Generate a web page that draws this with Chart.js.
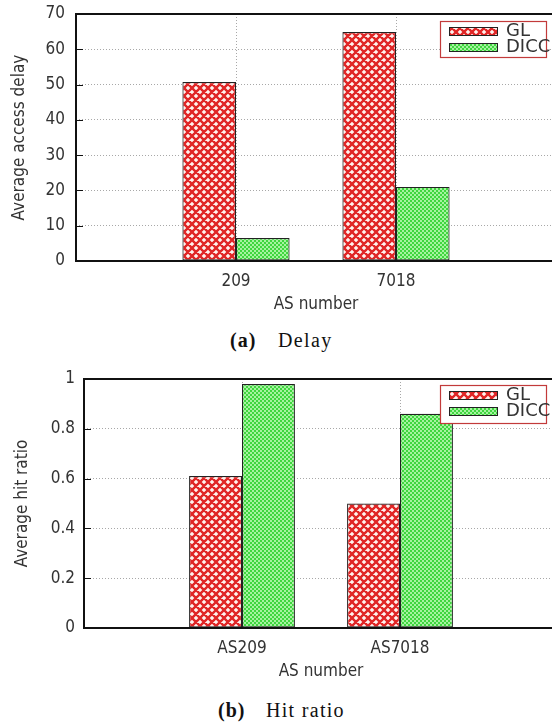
<!DOCTYPE html>
<html style="overflow:hidden">
<head>
<meta charset="utf-8">
<script src="https://cdn.jsdelivr.net/npm/chart.js@4.4.1/dist/chart.umd.min.js"></script>
<style>
  body { margin:0; background:#fff; }
  #lienzo { width:552px; height:722px; overflow:hidden; position:relative; background:#fff; }
  .panel { position:absolute; left:0; }
  .pie { position:absolute; font-family:'Liberation Serif','Times New Roman',serif; font-size:20px; line-height:20px; color:#111; white-space:nowrap; }
</style>
</head>
<body>
<div id="lienzo">
<div class="panel" style="top:0"><canvas id="graficoRetardo" width="569" height="321"></canvas></div>
<span class="pie" style="top:330px;left:230px;font-weight:bold;letter-spacing:1px">(a)</span>
<span class="pie" style="top:330px;left:278px;letter-spacing:1.4px">Delay</span>
<div class="panel" style="top:362px"><canvas id="graficoAciertos" width="569" height="326"></canvas></div>
<span class="pie" style="top:700px;left:218px;font-weight:bold;letter-spacing:1px">(b)</span>
<span class="pie" style="top:700px;left:266px;letter-spacing:1.3px">Hit ratio</span>
</div>
<script>
// datos
const nombresSeries = ['GL', 'DICC'];
const categoriasRetardo = ['', '209', '7018', ''];
const retardoGL = [null, 50.7, 64.9, null];
const retardoDICC = [null, 6.5, 21.0, null];
const categoriasAciertos = ['', 'AS209', 'AS7018', ''];
const aciertosGL = [null, 0.61, 0.50, null];
const aciertosDICC = [null, 0.98, 0.86, null];

const fuente = "'DejaVu Sans Condensed', 'Liberation Sans Narrow', 'DejaVu Sans', sans-serif";

// tramas de relleno (rojo cruzado y verde a cuadros)
function tramaRoja() {
  let c = document.createElement('canvas');
  c.width = 8; c.height = 8;
  let ctx = c.getContext('2d');
  ctx.fillStyle = '#fff2ee';
  ctx.fillRect(0, 0, 8, 8);
  ctx.strokeStyle = '#e02626';
  ctx.lineWidth = 2.4;
  ctx.beginPath();
  for (let k = -8; k <= 16; k += 8) {
    ctx.moveTo(k, 0); ctx.lineTo(k + 8, 8);
    ctx.moveTo(k + 8, 0); ctx.lineTo(k, 8);
  }
  ctx.stroke();
  return document.createElement('canvas').getContext('2d').createPattern(c, 'repeat');
}
function tramaVerde() {
  let c = document.createElement('canvas');
  c.width = 4; c.height = 4;
  let ctx = c.getContext('2d');
  ctx.fillStyle = '#3fd63f';
  ctx.fillRect(0, 0, 4, 4);
  ctx.fillStyle = '#a6f3a0';
  ctx.fillRect(0, 0, 2, 2);
  ctx.fillRect(2, 2, 2, 2);
  return document.createElement('canvas').getContext('2d').createPattern(c, 'repeat');
}

// marco (el lado derecho queda fuera del recorte), marcas hacia dentro y leyenda con borde rojo
const marcoYLeyenda = {
  id: 'marcoYLeyenda',
  afterDatasetsDraw(chart, args, opts) {
    const {ctx, chartArea: a} = chart;
    const ejeY = chart.scales.y;
    ctx.save();
    ctx.strokeStyle = '#111';
    ctx.lineWidth = 1;
    ejeY.ticks.forEach(t => {
      let py = Math.round(ejeY.getPixelForValue(t.value)) + 0.5;
      ctx.beginPath();
      ctx.moveTo(a.left, py); ctx.lineTo(a.left + 7, py);
      ctx.stroke();
    });
    ctx.lineWidth = 2;
    ctx.beginPath();
    ctx.moveTo(a.right + 10, a.top);
    ctx.lineTo(a.left, a.top);
    ctx.lineTo(a.left, a.bottom);
    ctx.lineTo(a.right + 10, a.bottom);
    ctx.stroke();

    // leyenda
    const bx = a.right - opts.derecha - 106, by = a.top + opts.arriba;
    ctx.fillStyle = '#fff';
    ctx.fillRect(bx, by, 106, opts.alto);
    ctx.strokeStyle = '#c23a3a';
    ctx.lineWidth = 1.2;
    ctx.strokeRect(bx + 0.5, by + 0.5, 106, opts.alto);
    ctx.font = "18px 'DejaVu Sans', sans-serif";
    ctx.textBaseline = 'middle';
    chart.data.datasets.forEach((ds, i) => {
      let cy = by + 10 + i * 16;
      ctx.fillStyle = ds.backgroundColor;
      ctx.fillRect(bx + 9, cy - 4, 48, 8);
      ctx.strokeStyle = '#222';
      ctx.lineWidth = 1;
      ctx.strokeRect(bx + 9.5, cy - 3.5, 48, 8);
      ctx.fillStyle = '#333';
      ctx.fillText(ds.label, bx + 66, cy);
    });
    ctx.restore();
  }
};

function crearGrafico(idCanvas, categorias, serieGL, serieDICC, maximo, paso, tituloY, anchoY, margenDerecho, margenArriba, tituloPad, padTicksY, leyendaCfg) {
  return new Chart(document.getElementById(idCanvas), {
    type: 'bar',
    data: {
      labels: categorias,
      datasets: [
        { label: nombresSeries[0], data: serieGL, backgroundColor: tramaRoja(), borderColor: '#222', borderWidth: 1.2, borderSkipped: false },
        { label: nombresSeries[1], data: serieDICC, backgroundColor: tramaVerde(), borderColor: '#222', borderWidth: 1.2, borderSkipped: false }
      ]
    },
    options: {
      responsive: false,
      animation: false,
      layout: { padding: { left: 0, right: margenDerecho, top: margenArriba, bottom: 0 } },
      datasets: { bar: { categoryPercentage: 0.67, barPercentage: 1 } },
      plugins: {
        legend: { display: false },
        tooltip: { enabled: false },
        marcoYLeyenda: leyendaCfg
      },
      scales: {
        x: {
          offset: false,
          grid: {
            offset: false,
            drawTicks: false,
            color: c => (c.index === 1 || c.index === 2) ? '#a8a8a8' : 'rgba(0,0,0,0)',
            lineWidth: 1
          },
          border: { display: false, dash: [1, 2] },
          ticks: { padding: 10, color: '#333', font: { family: fuente, size: 17 }, autoSkip: false, maxRotation: 0 },
          title: { display: true, text: 'AS number', color: '#333', font: { family: fuente, size: 17 }, padding: { top: 0, bottom: 6 } },
          afterFit: s => { s.height = 60; s.paddingLeft = 0; s.paddingRight = 0; }
        },
        y: {
          min: 0,
          max: maximo,
          border: { display: false, dash: [1, 2] },
          grid: {
            drawTicks: false,
            color: c => (c.index === 0 || c.tick.value === maximo) ? 'rgba(0,0,0,0)' : '#a8a8a8',
            lineWidth: 1
          },
          ticks: {
            stepSize: paso, padding: padTicksY, color: '#333', font: { family: fuente, size: 17 },
            callback: v => String(+v.toFixed(1))
          },
          title: { display: true, text: tituloY, color: '#333', font: { family: fuente, size: 17 }, padding: { top: tituloPad, bottom: 0 } },
          afterFit: s => { s.width = anchoY; s.paddingTop = 0; s.paddingBottom = 0; }
        }
      }
    },
    plugins: [marcoYLeyenda]
  });
}

let graficoRetardo = crearGrafico('graficoRetardo', categoriasRetardo, retardoGL, retardoDICC, 70, 10,
  'Average access delay', 76, 13, 14, 9, 11, { derecha: 10, arriba: 7, alto: 36 });
let graficoAciertos = crearGrafico('graficoAciertos', categoriasAciertos, aciertosGL, aciertosDICC, 1, 0.2,
  'Average hit ratio', 84, 11, 17, 12, 9, { derecha: 12, arriba: 6, alto: 38 });
</script>
</body>
</html>
